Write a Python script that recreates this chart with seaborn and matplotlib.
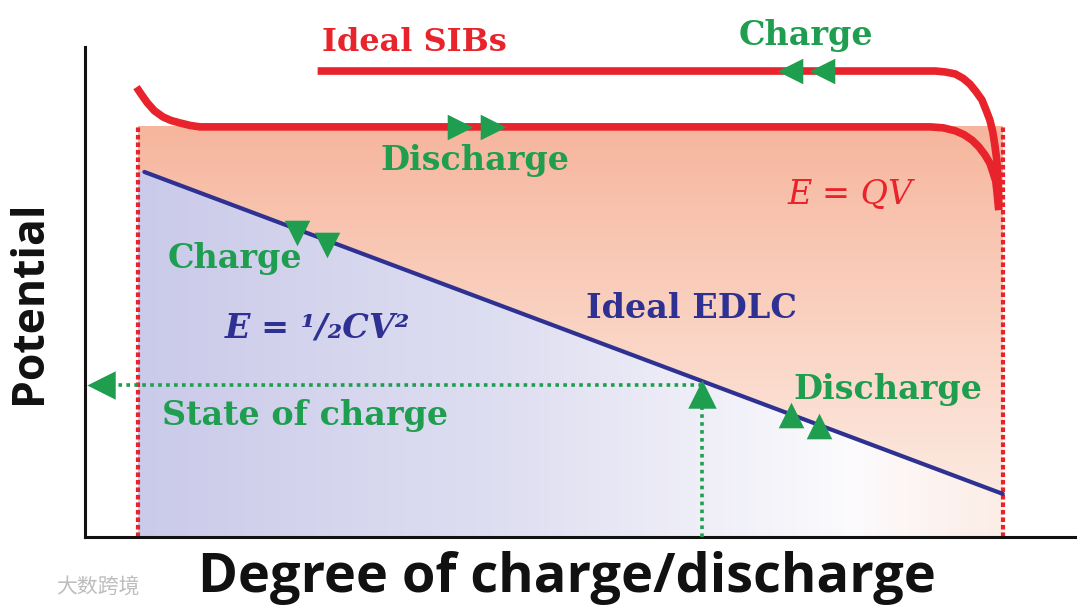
import numpy as np
import matplotlib.pyplot as plt
import seaborn as sns
from matplotlib.colors import LinearSegmentedColormap
from matplotlib.patches import Polygon

# values: x = degree of charge (%), y = potential (% of axis)
sib_dis_x = [5.2, 5.7, 6.3, 7.0, 7.9, 8.7, 9.6, 10.6, 11.6, 30.0, 60.0, 85.4, 86.7, 87.9,
             88.8, 89.6, 90.3, 90.9, 91.4, 91.7, 92.0, 92.1, 92.3]
sib_dis_y = [91.8, 90.3, 88.6, 87.0, 85.7, 85.0, 84.5, 84.0, 83.7, 83.7, 83.7, 83.7, 83.5, 82.9,
             82.1, 81.0, 79.6, 78.0, 76.3, 74.5, 72.6, 70.8, 66.7]
sib_chg_x = [23.5, 50.0, 85.9, 86.9, 87.9, 88.7, 89.4, 90.0, 90.6, 91.0, 91.4, 91.7, 91.9,
             92.1, 92.2, 92.3]
sib_chg_y = [95.1, 95.1, 95.1, 94.9, 94.5, 93.6, 92.4, 90.9, 89.2, 87.2, 85.1, 82.6, 80.0,
             77.0, 73.9, 67.3]
edlc_x = [6.0, 92.7]
edlc_y = [74.5, 8.8]

bounds_x = [5.35, 92.7]          # red dotted limits
bounds_top = 83.7
soc_x = 62.3                     # state of charge marker
soc_y = 31.0

# direction markers
sib_dis_arrows = ([37.9, 41.2], [83.7, 83.7])
sib_chg_arrows = ([71.2, 74.4], [95.1, 95.1])
edlc_chg_arrows = ([21.4, 24.4], [62.0, 59.6])
edlc_dis_arrows = ([71.3, 74.1], [24.9, 22.7])

RED = '#E8232B'
GREEN = '#1F9E50'
NAVY = '#2E3192'

sns.set_theme(style='white')
plt.rcParams['font.family'] = ['DejaVu Sans', 'Noto Sans CJK SC']

fig = plt.figure(figsize=(10.8, 6.09), dpi=100)
ax = fig.add_axes([85 / 1080, 72 / 609, 990 / 1080, 490 / 609])
ax.set_xlim(0, 100)
ax.set_ylim(0, 100)

# background gradients
orange = LinearSegmentedColormap.from_list(
    'org', [(0, '#FDEFE9'), (0.35, '#FBDCCE'), (0.8, '#F8C2AD'), (1, '#F6B59D')])
grad_v = np.linspace(0, 1, 256).reshape(-1, 1)
ax.imshow(grad_v, extent=[bounds_x[0], bounds_x[1], 0, bounds_top], origin='lower',
          cmap=orange, aspect='auto', zorder=0)

lav = LinearSegmentedColormap.from_list(
    'lav', [(0, '#CACAEA'), (0.45, '#E0E0F2'), (0.83, '#FCFBFD'), (1, '#FCEDE6')])
grad_h = np.linspace(0, 1, 256).reshape(1, -1)
im = ax.imshow(grad_h, extent=[bounds_x[0], bounds_x[1], 0, bounds_top], origin='lower',
               cmap=lav, aspect='auto', zorder=1)
below = Polygon([(bounds_x[0], 0), (bounds_x[0], edlc_y[0]), (edlc_x[0], edlc_y[0]),
                 (edlc_x[1], edlc_y[1]), (bounds_x[1], 0)], closed=True,
                transform=ax.transData)
im.set_clip_path(below)

# red dotted limits
for bx in bounds_x:
    sns.lineplot(x=[bx, bx], y=[0, bounds_top], ax=ax, color=RED, lw=3,
                 dashes=False, linestyle=(0, (1.1, 0.7)), estimator=None, sort=False, zorder=2)

# curves
sns.lineplot(x=edlc_x, y=edlc_y, ax=ax, color=NAVY, lw=3, estimator=None, sort=False, zorder=3)
sns.lineplot(x=sib_dis_x, y=sib_dis_y, ax=ax, color=RED, lw=5.5, estimator=None, sort=False,
             zorder=4, solid_capstyle='butt')
sns.lineplot(x=sib_chg_x, y=sib_chg_y, ax=ax, color=RED, lw=5.5, estimator=None, sort=False,
             zorder=4, solid_capstyle='butt')

# state of charge guide
sns.lineplot(x=[soc_x, 1.5], y=[soc_y, soc_y], ax=ax, color=GREEN, lw=2.6,
             linestyle=(0, (1, 1.2)), estimator=None, sort=False, zorder=3)
sns.lineplot(x=[soc_x, soc_x], y=[0, soc_y - 2], ax=ax, color=GREEN, lw=2.6,
             linestyle=(0, (1, 1.2)), estimator=None, sort=False, zorder=3)
sns.scatterplot(x=[1.6], y=[soc_y], ax=ax, marker='<', s=420, color=GREEN, linewidth=0, zorder=5)
sns.scatterplot(x=[soc_x], y=[soc_y - 1.8], ax=ax, marker='^', s=420, color=GREEN, linewidth=0, zorder=5)

# direction arrows
sns.scatterplot(x=sib_dis_arrows[0], y=sib_dis_arrows[1], ax=ax, marker='>', s=340,
                color=GREEN, linewidth=0, zorder=5)
sns.scatterplot(x=sib_chg_arrows[0], y=sib_chg_arrows[1], ax=ax, marker='<', s=340,
                color=GREEN, linewidth=0, zorder=5)
sns.scatterplot(x=edlc_chg_arrows[0], y=edlc_chg_arrows[1], ax=ax, marker='v', s=340,
                color=GREEN, linewidth=0, zorder=5)
sns.scatterplot(x=edlc_dis_arrows[0], y=edlc_dis_arrows[1], ax=ax, marker='^', s=340,
                color=GREEN, linewidth=0, zorder=5)

# labels
serif = dict(family='DejaVu Serif', fontweight='bold', ha='center', va='center', zorder=6)
ax.text(33.3, 101.0, 'Ideal SIBs', color=RED, fontsize=23, **serif)
ax.text(72.8, 102.4, 'Charge', color=GREEN, fontsize=24, **serif)
ax.text(39.4, 76.9, 'Discharge', color=GREEN, fontsize=24, **serif)
ax.text(77.3, 69.8, 'E = QV', color=RED, fontsize=24, style='italic',
        family='DejaVu Serif', ha='center', va='center', zorder=6)
ax.text(15.1, 56.9, 'Charge', color=GREEN, fontsize=24, **serif)
ax.text(61.3, 46.7, 'Ideal EDLC', color=NAVY, fontsize=24, **serif)
ax.text(23.5, 42.7, 'E = ¹/₂CV²', color=NAVY, fontsize=24, style='italic', **serif)
ax.text(81.1, 30.0, 'Discharge', color=GREEN, fontsize=24, **serif)
ax.text(22.2, 24.7, 'State of charge', color=GREEN, fontsize=24, **serif)

ax.set_xlabel('Degree of charge/discharge', fontsize=39, fontweight='bold',
              family='Open Sans', color='#111111', va='center')
ax.set_ylabel('Potential', fontsize=32, fontweight='bold', family='Open Sans',
              color='#111111', va='center')
ax.xaxis.set_label_coords(0.487, -0.084)
ax.yaxis.set_label_coords(-0.056, 0.48)
ax.set_xticks([])
ax.set_yticks([])
for side in ['top', 'right']:
    ax.spines[side].set_visible(False)
for side in ['left', 'bottom']:
    ax.spines[side].set_color('#111111')
    ax.spines[side].set_linewidth(2.2)

# watermark
fig.text(98 / 1080, 1 - 588 / 609, '大数跨境', fontsize=15, color='#BDBDBD',
         family=['Noto Sans CJK SC'], ha='center', va='center')

fig.savefig('out.png', dpi=100)
